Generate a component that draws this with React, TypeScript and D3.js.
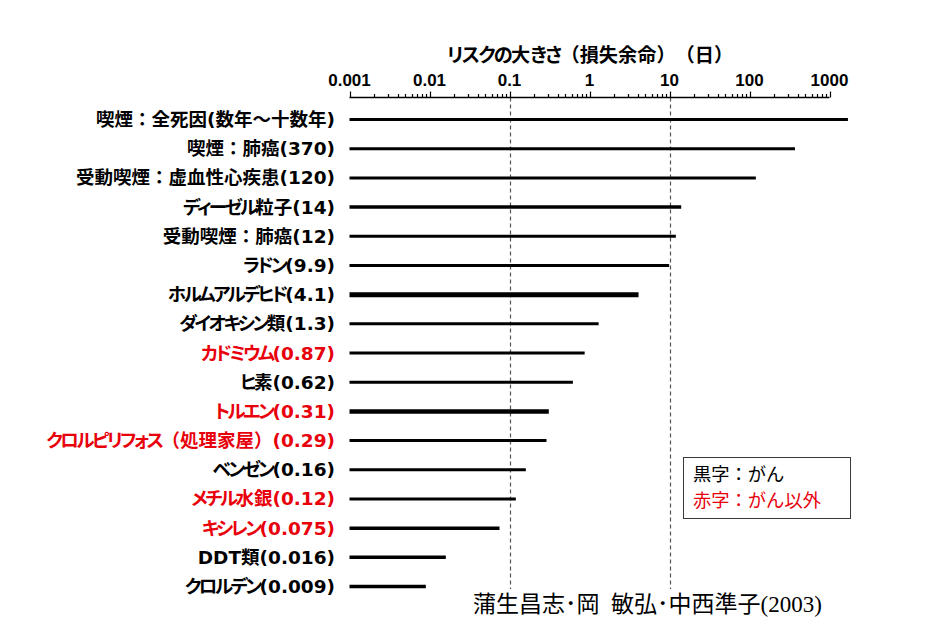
import React from 'react';
import * as d3 from 'd3';

const labels = [
  "喫煙：全死因(数年～十数年)",
  "喫煙：肺癌(370)",
  "受動喫煙：虚血性心疾患(120)",
  "ディーゼル粒子(14)",
  "受動喫煙：肺癌(12)",
  "ラドン(9.9)",
  "ホルムアルデヒド(4.1)",
  "ダイオキシン類(1.3)",
  "カドミウム(0.87)",
  "ヒ素(0.62)",
  "トルエン(0.31)",
  "クロルピリフォス（処理家屋）(0.29)",
  "ベンゼン(0.16)",
  "メチル水銀(0.12)",
  "キシレン(0.075)",
  "DDT類(0.016)",
  "クロルデン(0.009)",
];
const values = [1700, 370, 120, 14, 12, 9.9, 4.1, 1.3, 0.87, 0.62, 0.31, 0.29, 0.16, 0.12, 0.075, 0.016, 0.009];
const isCancer = [true, true, true, true, true, true, true, true, false, true, false, false, true, false, false, true, true];
const tickValues = [0.001, 0.01, 0.1, 1, 10, 100, 1000];
const tickLabels = ["0.001", "0.01", "0.1", "1", "10", "100", "1000"];
const refLines = [0.1, 10];
const axisTitle = "リスクの大きさ（損失余命）（日）";
const legendItems = ["黒字：がん", "赤字：がん以外"];
const citationNames = "蒲生昌志･岡\u2002敏弘･中西準子";
const citationYear = "(2003)";

const BAR_STROKE = [3, 3, 3, 3.5, 3, 3, 5, 3, 3, 3, 4.5, 3, 3, 3, 3.5, 3.5, 3.5];

const RED = '#e8000b';
const CJK = '"Noto Sans CJK JP", sans-serif';
const LABEL_FONT = '"DejaVu Sans", "Noto Sans CJK JP", sans-serif';

function kanaRuns(s: string, re: RegExp, spacing: number) {
  const parts = s.split(re).filter((p) => p.length > 0);
  return parts.map((p, i) => {
    const isKana = new RegExp('^' + re.source.replace(/^\(|\)$/g, '') + '$').test(p);
    return (
      <tspan
        key={i}
        style={isKana ? { fontFeatureSettings: '"palt"', letterSpacing: `${spacing}px` } : undefined}
      >
        {p}
      </tspan>
    );
  });
}

export default function App() {
  const W = 931, H = 643;
  const x = d3.scaleLog().domain([0.001, 1000]).range([349.5, 829.5]);
  const y = d3.scalePoint<number>().domain(d3.range(labels.length)).range([119.5, 586.5]);
  const axisY = 97.5;
  const allTicks = x.ticks();
  const isMajor = (t: number) => Math.abs(Math.log10(t) - Math.round(Math.log10(t))) < 1e-9;
  const kataRe = /([\u30A0-\u30FF]+)/;
  const kanaRe = /([\u3040-\u30FF]+)/;

  return (
    <svg width={W} height={H} style={{ position: 'absolute', left: 0, top: 0, background: '#fff' }}>
      <rect x={0} y={0} width={W} height={H} fill="#fff" />
      {/* axis title */}
      <text
        x={590}
        y={61.5}
        textAnchor="middle"
        fontFamily={CJK}
        fontWeight="bold"
        fontSize={19.2}
        fill="#000"
        style={{ textSpacingTrim: 'space-all' } as any}
      >
        {kanaRuns(axisTitle, kanaRe, -1.6)}
      </text>
      {/* tick labels */}
      {tickValues.map((t, i) => (
        <text key={i} x={x(t)} y={86} textAnchor="middle" fontFamily='"Liberation Sans", Arial, sans-serif' fontWeight="bold" fontSize={17} fill="#000">
          {tickLabels[i]}
        </text>
      ))}
      {/* reference dashed lines */}
      {refLines.map((v, i) => (
        <line key={i} x1={Math.round(x(v)) + 0.5} x2={Math.round(x(v)) + 0.5} y1={axisY} y2={589} stroke="#555" strokeWidth={1.2} strokeDasharray="4,3" />
      ))}
      {/* axis */}
      <line x1={x(0.001)} x2={x(1000)} y1={axisY} y2={axisY} stroke="#000" strokeWidth={1.5} />
      {allTicks.map((t, i) => (
        <line key={i} x1={Math.round(x(t)) + 0.5} x2={Math.round(x(t)) + 0.5} y1={axisY} y2={axisY - (isMajor(t) ? 6 : 3.5)} stroke="#000" strokeWidth={1.2} />
      ))}
      {/* bars */}
      {values.map((v, i) => (
        <line key={i} x1={x(0.001)} x2={x(v)} y1={y(i)} y2={y(i)} stroke="#000" strokeWidth={BAR_STROKE[i]} />
      ))}
      {/* labels */}
      {labels.map((l, i) => (
        <text key={i} x={335} y={(y(i) as number) + 6.5} textAnchor="end" fontFamily={LABEL_FONT} fontWeight="bold" fontSize={18.5} fill={isCancer[i] ? '#000' : RED}>
          {kanaRuns(l, kataRe, -2.6)}
        </text>
      ))}
      {/* legend */}
      <rect x={683.5} y={457.5} width={167} height={61} fill="#fff" stroke="#3a3a3a" strokeWidth={1} />
      {legendItems.map((s, i) => (
        <text key={i} x={693} y={481 + i * 26} fontFamily={CJK} fontSize={18.3} fill={i === 0 ? '#000' : RED}>
          {s}
        </text>
      ))}
      {/* citation */}
      <text x={473} y={612} fontFamily={CJK} fontSize={23} fill="#000">
        {citationNames}
        <tspan fontFamily='"Liberation Serif", "Times New Roman", serif'>{citationYear}</tspan>
      </text>
    </svg>
  );
}
